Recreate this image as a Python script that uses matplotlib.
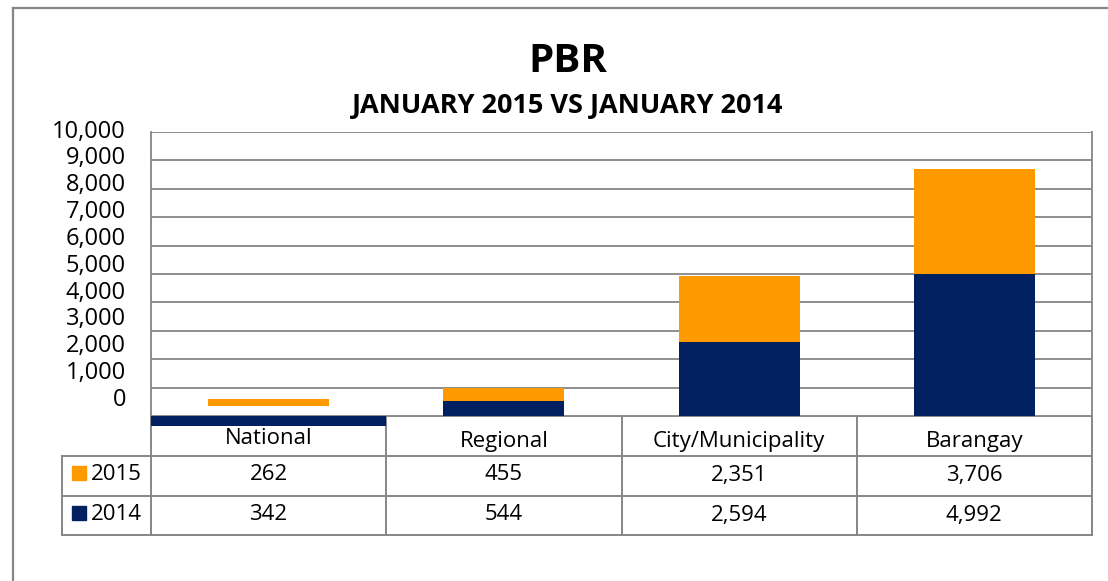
import matplotlib.pyplot as plt
from matplotlib.patches import Rectangle
import numpy as np

plt.rcParams['font.family'] = ['Open Sans', 'DejaVu Sans']

categories = ["National", "Regional", "City/Municipality", "Barangay"]
years = ["2015", "2014"]
v2015 = [262, 455, 2351, 3706]
v2014 = [342, 544, 2594, 4992]
yticks = [0, 1000, 2000, 3000, 4000, 5000, 6000, 7000, 8000, 9000, 10000]

ORANGE = "#FF9900"
NAVY = "#00205F"
GRAY = "#868686"

W, H = 1108, 581
fig = plt.figure(figsize=(W / 100, H / 100), dpi=100)

# plot area in pixels
px_l, px_r, px_t, px_b = 151, 1092, 132, 416


def fx(x):
    return x / W


def fy(y):
    return 1 - y / H


ax = fig.add_axes([fx(px_l), fy(px_b), fx(px_r - px_l), (px_b - px_t) / H])
ax.set_xlim(-0.5, len(categories) - 0.5)
ax.set_ylim(yticks[0], yticks[-1])
ax.set_yticks(yticks)
ax.set_yticklabels([])
ax.tick_params(length=0)
ax.set_xticks([])
ax.grid(axis="y", color=GRAY, linewidth=1.3)
ax.set_axisbelow(True)
for s in ["top", "bottom"]:
    ax.spines[s].set_visible(False)
for s in ["left", "right"]:
    ax.spines[s].set_color(GRAY)
    ax.spines[s].set_linewidth(1.3)

x = np.arange(len(categories))
bw = 0.515
# first category renders oddly: 2014 bar hangs below the axis across the full slot
h14 = np.array(v2014, dtype=float)
h14[0] = -h14[0]
widths = [1.0] + [bw] * (len(categories) - 1)
ax.bar(x, h14, width=widths, color=NAVY, clip_on=False, zorder=3)
ax.bar(x, v2015, bottom=v2014, width=bw, color=ORANGE, clip_on=False, zorder=3)

# y labels (drawn slightly off the gridlines, as in the source)
for v in yticks:
    ax.text(-0.5 - 25 / 235, 563 + v * 0.945, f"{v:,}", ha="right", va="center",
            fontsize=17, clip_on=False)

# overlay in pixel coordinates for table and frame
ov = fig.add_axes([0, 0, 1, 1], zorder=-1)
ov.set_xlim(0, W)
ov.set_ylim(H, 0)
ov.axis("off")

ov.plot([13, 13], [8, H], color=GRAY, lw=1.6)
ov.plot([13, W], [8, 8], color=GRAY, lw=1.6)

ov.text(568, 61, "PBR", ha="center", va="center", fontsize=29, fontweight="bold")
ov.text(568, 106, "JANUARY 2015 VS JANUARY 2014", ha="center", va="center",
        fontsize=19.5, fontweight="bold")

# data table
col_w = (px_r - px_l) / len(categories)
row_y = [416, 456, 496, 535]
tl = 62
lc = dict(color=GRAY, lw=1.4)
ov.plot([px_l + col_w, px_r], [row_y[0], row_y[0]], **lc)
for yy in row_y[1:]:
    ov.plot([tl, px_r], [yy, yy], **lc)
ov.plot([tl, tl], [row_y[1], row_y[3]], **lc)
for i in range(len(categories) + 1):
    xx = px_l + i * col_w
    ov.plot([xx, xx], [row_y[0], row_y[3]], **lc)

for i, c in enumerate(categories):
    cx = px_l + (i + 0.5) * col_w
    ov.text(cx, 439 if i == 0 else 442, c, ha="center", va="center", fontsize=16)
    ov.text(cx, 475, f"{v2015[i]:,}", ha="center", va="center", fontsize=16)
    ov.text(cx, 515, f"{v2014[i]:,}", ha="center", va="center", fontsize=16)

for r, (yr, col) in enumerate(zip(years, [ORANGE, NAVY])):
    cy = 473 + r * 40
    ov.add_patch(Rectangle((72, cy - 7), 14, 14, color=col))
    ov.text(91, cy + 1, yr, ha="left", va="center", fontsize=16)

fig.savefig("out.png", dpi=100)
